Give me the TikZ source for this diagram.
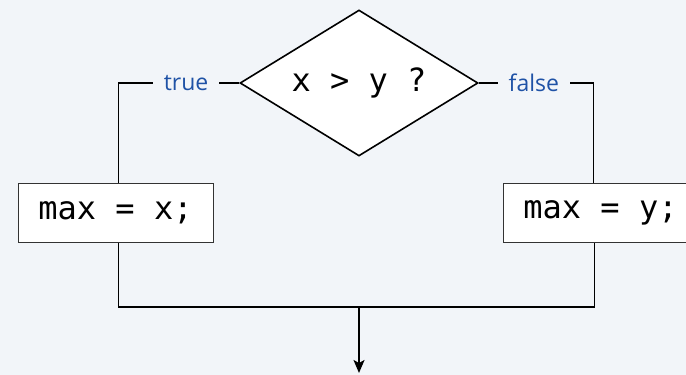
\documentclass[tikz,border=0pt]{standalone}
\usepackage{fontspec}
\setmonofont{DejaVu Sans Mono}
\setsansfont{Open Sans}
\usetikzlibrary{arrows.meta, shapes.geometric}
\definecolor{bgpanel}{HTML}{F2F5F9}
\definecolor{lblblue}{HTML}{1F52A6}

\begin{document}
\begin{tikzpicture}[
  x=1pt, y=-1pt,
  test/.style={diamond, aspect=1.63, draw, line width=1.6pt, fill=white,
               minimum width=238pt, minimum height=146pt,
               inner sep=0pt, font=\ttfamily\fontsize{32}{38}\selectfont},
  stmt/.style={rectangle, draw=black!80, line width=1pt, fill=white,
               minimum width=195pt, minimum height=59pt,
               inner sep=0pt, font=\ttfamily\fontsize{32}{38}\selectfont},
  flow/.style={draw, line width=1.9pt},
  tag/.style={fill=bgpanel, inner xsep=11pt, inner ysep=2pt, text=lblblue,
              font=\sffamily\fontsize{23}{27}\selectfont}
]
  \useasboundingbox[fill=bgpanel] (0,0) rectangle (686,375);
  \node[test] (T) at (359,83) {x > y ?};
  \node[stmt] (L) at (115.5,212.5) {max = x;};
  \node[stmt] (R) at (600.5,212.5) {max = y;};
  \coordinate (M) at (359,307);
  \coordinate (E) at (359,373);
  % branches
  \draw[flow] (T.west) -| node[tag, pos=0.22] (YES) {true} ([xshift=3pt]L.north);
  \draw[flow] (T.east) -| node[tag, pos=0.24] (NO) {false} ([xshift=-7pt]R.north);
  % merge
  \draw[flow] ([xshift=3pt]L.south) |- (M) -| ([xshift=-6pt]R.south);
  \draw[flow, -{Stealth[length=13pt, width=11pt, inset=3pt]}] (M) -- (E);
\end{tikzpicture}
\end{document}
